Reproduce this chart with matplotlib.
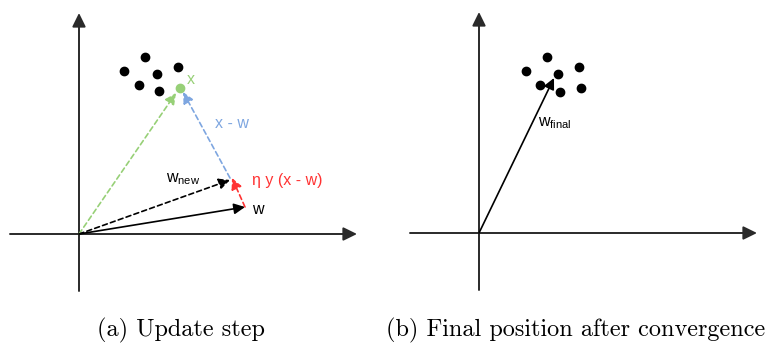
import matplotlib

matplotlib.use("Agg")
import matplotlib.pyplot as plt

plt.rcParams["mathtext.fontset"] = "custom"
plt.rcParams["mathtext.rm"] = "Liberation Sans"
plt.rcParams["font.family"] = "Liberation Sans"

# panel (a): points relative to the origin (1 unit = 1 px)
cloud_a_x = [45, 66, 78, 99, 60, 80]
cloud_a_y = [163, 177, 160, 167, 149, 143]
x_point = (101, 146)
w_vec = (166, 27)
w_new = (151, 54)

# panel (b)
cloud_b_x = [47, 68, 79, 100, 61, 81, 102]
cloud_b_y = [162, 176, 159, 166, 148, 141, 145]
w_final = (75, 155)

captions = ["(a) Update step", "(b) Final position after convergence"]

GREEN = "#97d077"
BLUE = "#7ea6e0"
RED = "#ff3333"
AXIS = "#2a2a2a"
LABEL_SIZE = 11.5

W, H = 774, 343
fig = plt.figure(figsize=(W / 100, H / 100), dpi=100)


def make_axes(left_px, width_px, origin_x, origin_y):
    ax = fig.add_axes([left_px / W, 0, width_px / W, 1])
    ax.set_xlim(left_px - origin_x, left_px + width_px - origin_x)
    ax.set_ylim(-(H - origin_y), origin_y)
    ax.axis("off")
    return ax


def arrow(ax, start, end, color, ls="-", lw=1.2, ms=12):
    ax.annotate(
        "",
        xy=end,
        xytext=start,
        arrowprops=dict(
            arrowstyle="-|>,head_length=0.55,head_width=0.27",
            color=color,
            lw=lw,
            linestyle=ls,
            shrinkA=0,
            shrinkB=0,
            mutation_scale=ms,
        ),
    )


def draw_axes(ax):
    arrow(ax, (0, -57), (0, 221), AXIS, lw=1.4, ms=15)
    arrow(ax, (-69, 0), (278, 0), AXIS, lw=1.4, ms=15)


# (a) update step
ax_a = make_axes(0, 387, 79, 234)
draw_axes(ax_a)
ax_a.scatter(cloud_a_x, cloud_a_y, s=36, color="black", zorder=3)
ax_a.scatter([x_point[0]], [x_point[1]], s=36, color=GREEN, zorder=3)
arrow(ax_a, (0, 0), (x_point[0] - 4, x_point[1] - 5), GREEN, ls=(0, (3, 2)))
arrow(ax_a, (0, 0), w_vec, "black")
arrow(ax_a, (0, 0), w_new, "black", ls=(0, (3, 2)))
arrow(ax_a, w_vec, (w_new[0] + 2, w_new[1] + 2), RED, ls=(0, (3, 2)))
arrow(ax_a, (w_new[0], w_new[1] + 2), (x_point[0] + 3, x_point[1] - 4), BLUE, ls=(0, (3, 2)))
ax_a.text(x_point[0] + 7, x_point[1] + 8, "x", color=GREEN, fontsize=LABEL_SIZE, va="center")
ax_a.text(136, 110, "x - w", color=BLUE, fontsize=LABEL_SIZE, va="center")
ax_a.text(173, 53, r"η y (x - w)", color=RED, fontsize=LABEL_SIZE, va="center")
ax_a.text(87, 55, r"w$_{\mathrm{new}}$", color="black", fontsize=LABEL_SIZE, va="center")
ax_a.text(w_vec[0] + 7, w_vec[1] - 2, "w", color="black", fontsize=LABEL_SIZE, va="center")

# (b) final position
ax_b = make_axes(387, 387, 479, 233)
draw_axes(ax_b)
ax_b.scatter(cloud_b_x, cloud_b_y, s=36, color="black", zorder=3)
arrow(ax_b, (0, 0), w_final, "black")
ax_b.text(59, 110, r"w$_{\mathrm{final}}$", color="black", fontsize=LABEL_SIZE, va="center")

fig.text(181 / W, 1 - 330 / H, captions[0], family="cmr10", fontsize=17.5, ha="center", va="center")
fig.text(576 / W, 1 - 330 / H, captions[1], family="cmr10", fontsize=17.5, ha="center", va="center")

fig.savefig("out.png", dpi=100)
